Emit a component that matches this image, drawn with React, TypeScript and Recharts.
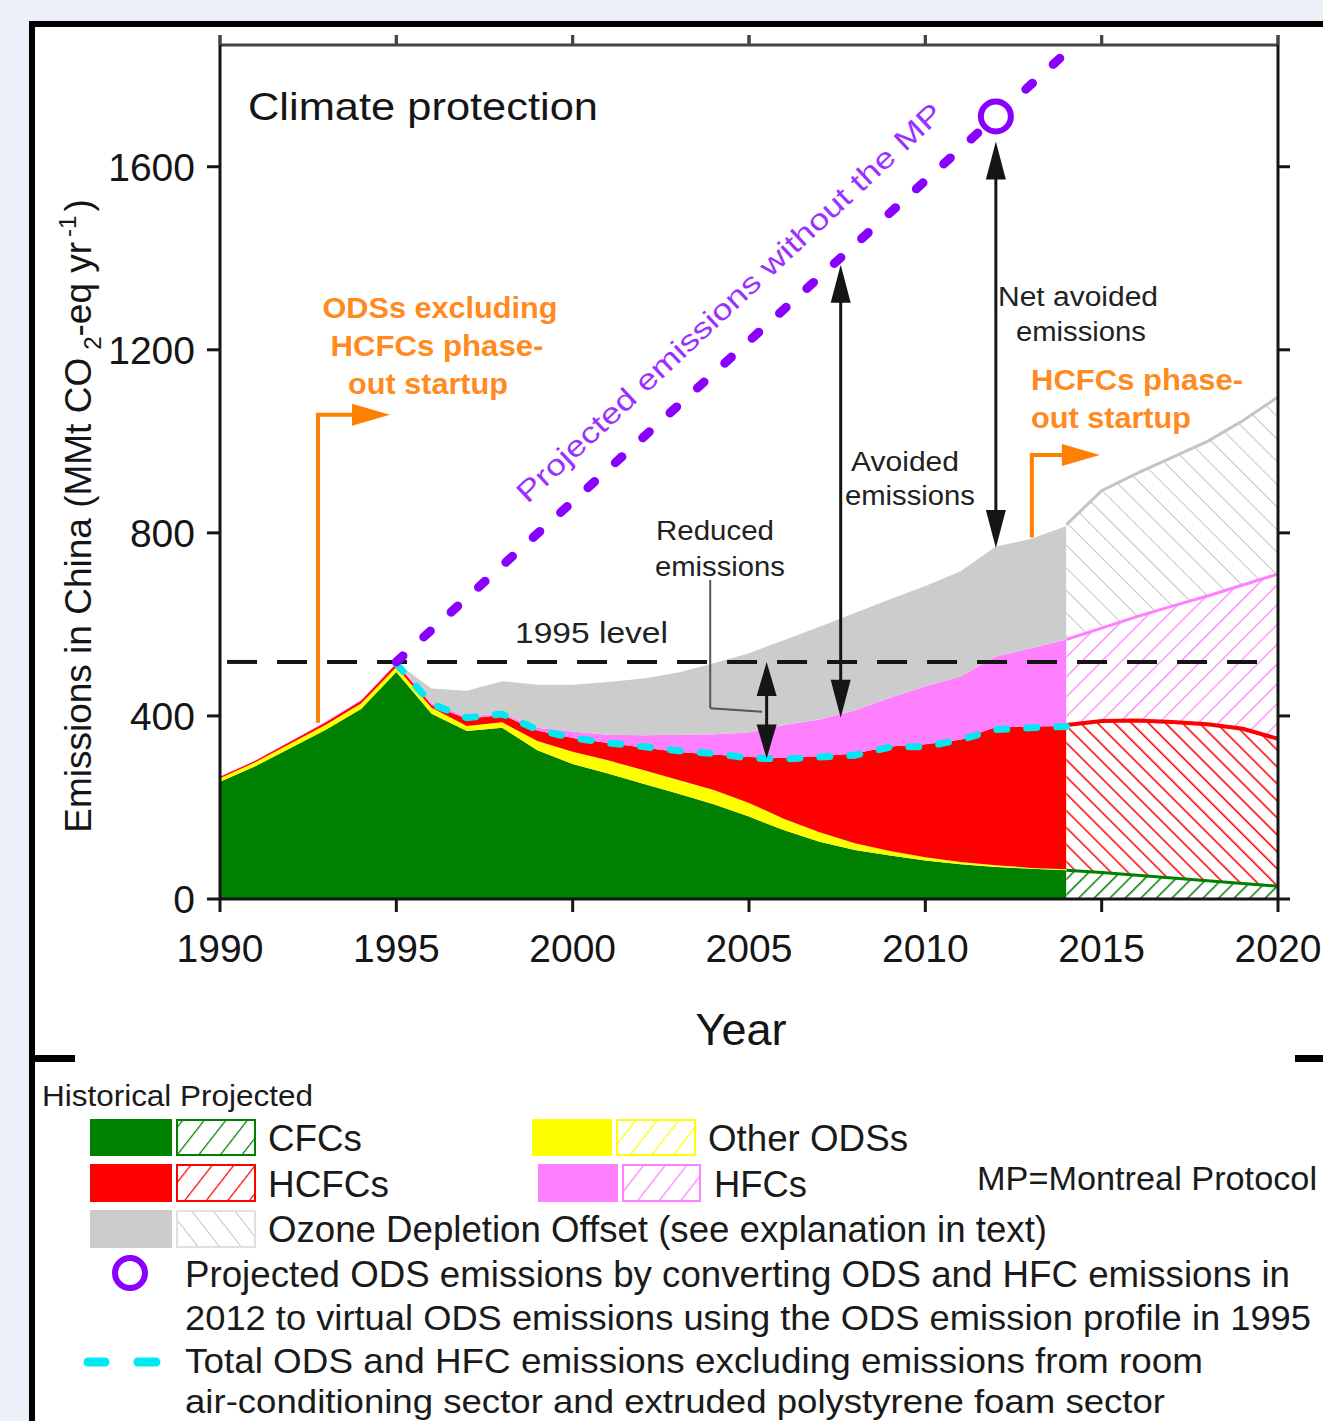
import React from "react";
import {
  Area,
  ComposedChart,
  Line,
  ReferenceDot,
  ReferenceLine,
  XAxis,
  YAxis,
} from "recharts";

const FONT = "'Liberation Sans', Arial, Helvetica, sans-serif";

const GREEN = "#008000";
const YELLOW = "#ffff00";
const RED = "#ff0000";
const PINK = "#ff80ff";
const GREY = "#cccccc";
const GREY_HATCH = "#c4c4c4";
const PURPLE = "#8a00ff";
const CYAN = "#00e8f2";
const ORANGE = "#ff8000";
const INK = "#151515";

// historical emissions, MMt CO2-eq / yr (stack layers)
const historicalYears = [
  1990, 1991, 1992, 1993, 1994, 1995, 1996, 1997, 1998, 1999, 2000, 2001, 2002,
  2003, 2004, 2005, 2006, 2007, 2008, 2009, 2010, 2011, 2012, 2013, 2014,
];
const cfcHistorical = [
  256, 290, 330, 370, 415, 496, 405, 367, 374, 325, 295, 274, 252, 230, 207, 180,
  150, 125, 107, 95, 84, 76, 70, 66, 63,
];
const otherOdsHistorical = [
  8, 9, 10, 11, 12, 11, 13, 11, 12, 20, 27, 29, 30, 30, 31, 30, 25, 21, 15, 10,
  7, 5, 4, 2, 2,
];
const hcfcHistorical = [
  3, 3, 4, 5, 6, 7, 6, 16, 16, 23, 30, 38, 49, 61, 78, 100, 133, 166, 196, 228,
  247, 267, 302, 309, 313,
];
const hfcHistorical = [
  1, 1, 1, 2, 2, 2, 4, 4, 4, 6, 14, 18, 27, 38, 44, 54, 72, 80, 94, 107, 127,
  138, 154, 171, 189,
];
const odoHistorical = [
  0, 0, 0, 0, 0, 0, 32, 57, 70, 94, 102, 115, 124, 136, 155, 173, 186, 203, 213,
  215, 219, 230, 240, 239, 248,
];

// projected emissions
const projectedYears = [2014, 2015, 2016, 2017, 2018, 2019, 2020];
const cfcProjected = [63, 58, 52, 46, 40, 34, 28];
const otherOdsProjected = [2, 2, 2, 1, 1, 1, 1];
const hcfcProjected = [315, 329, 336, 340, 341, 337, 321];
const hfcProjected = [187, 203, 227, 253, 280, 314, 360];
const odoProjected = [251, 300, 313, 325, 338, 359, 387];

// projected emissions without the Montreal Protocol
const withoutMpYears = [1995, 2014];
const withoutMpValues = [518, 1850];

// total ODS + HFC excluding room AC and XPS foam
const excludingYears = [
  1995, 1996, 1997, 1998, 1999, 2000, 2001, 2002, 2003, 2004, 2005, 2006, 2007,
  2008, 2009, 2010, 2011, 2012, 2013, 2014,
];
const excludingValues = [
  514, 426, 396, 404, 370, 352, 341, 333, 324, 318, 308, 306, 310, 314, 332, 333,
  348, 370, 374, 377,
];

const level1995 = 518;
const virtualOdsYear = 2012;
const virtualOdsValue = 1710;

const xTicks = [1990, 1995, 2000, 2005, 2010, 2015, 2020];
const yTicks = [0, 400, 800, 1200, 1600];
const Y_MAX = 1866;

const historicalLayers: [string, number[]][] = [
  ["hCfc", cfcHistorical],
  ["hOther", otherOdsHistorical],
  ["hHcfc", hcfcHistorical],
  ["hHfc", hfcHistorical],
  ["hOdo", odoHistorical],
];
const projectedLayers: [string, number[]][] = [
  ["pCfc", cfcProjected],
  ["pOther", otherOdsProjected],
  ["pHcfc", hcfcProjected],
  ["pHfc", hfcProjected],
  ["pOdo", odoProjected],
];

type Row = Record<string, any>;

const allYears = Array.from(
  new Set([...historicalYears, ...projectedYears])
).sort((a, b) => a - b);

function addStack(row: Row, layers: [string, number[]][], i: number) {
  let base = 0;
  layers.forEach(([key, values]) => {
    row[key] = [base, base + values[i]];
    base += values[i];
  });
}

const rows: Row[] = allYears.map((year) => {
  const row: Row = { year };
  const hi = historicalYears.indexOf(year);
  if (hi >= 0) addStack(row, historicalLayers, hi);
  const pi = projectedYears.indexOf(year);
  if (pi >= 0) addStack(row, projectedLayers, pi);
  const wi = withoutMpYears.indexOf(year);
  if (wi >= 0) row.withoutMp = withoutMpValues[wi];
  const ei = excludingYears.indexOf(year);
  if (ei >= 0) row.excluding = excludingValues[ei];
  return row;
});

const topOf = (key: string) => (row: Row) => (row[key] ? row[key][1] : null);

function arrowShape(
  color: string,
  width: number,
  start: boolean,
  end: boolean,
  headLen = 38,
  headHalf = 10
) {
  return (props: any) => {
    const { x1, y1, x2, y2 } = props;
    const len = Math.hypot(x2 - x1, y2 - y1) || 1;
    const ux = (x2 - x1) / len;
    const uy = (y2 - y1) / len;
    const head = (tx: number, ty: number, dx: number, dy: number) => {
      const bx = tx - dx * headLen;
      const by = ty - dy * headLen;
      const px = -dy * headHalf;
      const py = dx * headHalf;
      return `${tx},${ty} ${bx + px},${by + py} ${bx - px},${by - py}`;
    };
    const sx = start ? x1 + ux * headLen * 0.7 : x1;
    const sy = start ? y1 + uy * headLen * 0.7 : y1;
    const ex = end ? x2 - ux * headLen * 0.7 : x2;
    const ey = end ? y2 - uy * headLen * 0.7 : y2;
    return (
      <g>
        <line x1={sx} y1={sy} x2={ex} y2={ey} stroke={color} strokeWidth={width} />
        {start && <polygon points={head(x1, y1, -ux, -uy)} fill={color} />}
        {end && <polygon points={head(x2, y2, ux, uy)} fill={color} />}
      </g>
    );
  };
}

// small marks above the top frame line, one per x tick
const topTickShape = (props: any) => {
  const { x1, y1 } = props;
  return <line x1={x1} y1={y1} x2={x1} y2={y1 - 10} stroke="#444" strokeWidth={3} />;
};

function Hatch({ id, color, gap, angle, width }: { id: string; color: string; gap: number; angle: number; width: number }) {
  return (
    <pattern id={id} patternUnits="userSpaceOnUse" width={gap} height={gap} patternTransform={`rotate(${angle})`}>
      <rect width={gap} height={gap} fill="#fff" />
      <line x1={0} y1={0} x2={0} y2={gap} stroke={color} strokeWidth={width} />
    </pattern>
  );
}

function T(props: any) {
  const { children, len, ...rest } = props;
  return (
    <text
      fontFamily={FONT}
      textLength={len}
      lengthAdjust={len ? "spacingAndGlyphs" : undefined}
      {...rest}
    >
      {children}
    </text>
  );
}

function Swatch({ x, y, w, h, fill, border }: any) {
  return <rect x={x} y={y} width={w} height={h} fill={fill} stroke={border || "none"} strokeWidth={2} />;
}

const noLabel = () => <g />;

export default function App() {
  const axisTick = { fontSize: 39, fill: INK, fontFamily: FONT };
  return (
    <div
      style={{
        position: "relative",
        width: 1323,
        height: 1421,
        overflow: "hidden",
        background: "#edf0f8",
        fontFamily: FONT,
      }}
    >
      <style>{"body{margin:0}"}</style>
      <div
        style={{
          position: "absolute",
          left: 29,
          top: 21,
          width: 1400,
          height: 1500,
          background: "#fff",
          borderLeft: "6px solid #000",
          borderTop: "6px solid #000",
        }}
      />
      <div style={{ position: "absolute", left: 0, top: 0 }}>
        <ComposedChart
          width={1323}
          height={1060}
          data={rows}
          margin={{ top: 44, right: 44, bottom: 61, left: 100 }}
        >
          <defs>
            <Hatch id="hatch-cfc" color={GREEN} gap={11} angle={45} width={3} />
            <Hatch id="hatch-other" color={YELLOW} gap={11} angle={45} width={3} />
            <Hatch id="hatch-hcfc" color={RED} gap={12} angle={-45} width={3} />
            <Hatch id="hatch-hfc" color={PINK} gap={14} angle={45} width={2.5} />
            <Hatch id="hatch-odo" color={GREY_HATCH} gap={16} angle={-45} width={2} />
          </defs>
          <XAxis
            dataKey="year"
            type="number"
            domain={[1990, 2020]}
            ticks={xTicks}
            allowDataOverflow
            height={100}
            tick={axisTick}
            tickSize={13}
            tickMargin={22}
            axisLine={{ stroke: INK, strokeWidth: 3 }}
            tickLine={{ stroke: INK, strokeWidth: 3 }}
          />
          <XAxis
            xAxisId="top"
            dataKey="year"
            orientation="top"
            type="number"
            domain={[1990, 2020]}
            ticks={xTicks}
            allowDataOverflow
            height={1}
            tick={noLabel}
            tickSize={10}
            axisLine={{ stroke: "#444", strokeWidth: 3 }}
            tickLine={{ stroke: "#444", strokeWidth: 3 }}
          />
          <YAxis
            type="number"
            domain={[0, Y_MAX]}
            ticks={yTicks}
            allowDataOverflow
            width={120}
            tick={axisTick}
            tickSize={13}
            tickMargin={12}
            axisLine={{ stroke: INK, strokeWidth: 3 }}
            tickLine={{ stroke: INK, strokeWidth: 3 }}
          />
          <YAxis
            yAxisId="right"
            orientation="right"
            type="number"
            domain={[0, Y_MAX]}
            ticks={yTicks}
            allowDataOverflow
            width={1}
            tick={noLabel}
            tickSize={12}
            axisLine={{ stroke: INK, strokeWidth: 3 }}
            tickLine={{ stroke: INK, strokeWidth: 3 }}
          />

          <Area dataKey="hCfc" type="linear" fill={GREEN} fillOpacity={1} stroke="none" dot={false} activeDot={false} isAnimationActive={false} />
          <Area dataKey="hOther" type="linear" fill={YELLOW} fillOpacity={1} stroke="none" dot={false} activeDot={false} isAnimationActive={false} />
          <Area dataKey="hHcfc" type="linear" fill={RED} fillOpacity={1} stroke="none" dot={false} activeDot={false} isAnimationActive={false} />
          <Area dataKey="hHfc" type="linear" fill={PINK} fillOpacity={1} stroke="none" dot={false} activeDot={false} isAnimationActive={false} />
          <Area dataKey="hOdo" type="linear" fill={GREY} fillOpacity={1} stroke="none" dot={false} activeDot={false} isAnimationActive={false} />

          <Area dataKey="pCfc" type="linear" fill="url(#hatch-cfc)" fillOpacity={1} stroke="none" dot={false} activeDot={false} isAnimationActive={false} />
          <Area dataKey="pOther" type="linear" fill="url(#hatch-other)" fillOpacity={1} stroke="none" dot={false} activeDot={false} isAnimationActive={false} />
          <Area dataKey="pHcfc" type="linear" fill="url(#hatch-hcfc)" fillOpacity={1} stroke="none" dot={false} activeDot={false} isAnimationActive={false} />
          <Area dataKey="pHfc" type="linear" fill="url(#hatch-hfc)" fillOpacity={1} stroke="none" dot={false} activeDot={false} isAnimationActive={false} />
          <Area dataKey="pOdo" type="linear" fill="url(#hatch-odo)" fillOpacity={1} stroke="none" dot={false} activeDot={false} isAnimationActive={false} />

          <Line dataKey={topOf("pOdo")} type="linear" stroke={GREY_HATCH} strokeWidth={3} dot={false} activeDot={false} isAnimationActive={false} />
          <Line dataKey={topOf("pHfc")} type="linear" stroke={PINK} strokeWidth={3} dot={false} activeDot={false} isAnimationActive={false} />
          <Line dataKey={topOf("pHcfc")} type="linear" stroke={RED} strokeWidth={4} dot={false} activeDot={false} isAnimationActive={false} />
          <Line dataKey={topOf("pCfc")} type="linear" stroke={GREEN} strokeWidth={3} dot={false} activeDot={false} isAnimationActive={false} />

          <ReferenceLine
            segment={[{ x: 1990.2, y: level1995 }, { x: 2019.7, y: level1995 }]}
            stroke={INK}
            strokeWidth={4}
            strokeDasharray="30 20"
          />

          <Line
            dataKey="excluding"
            type="linear"
            stroke={CYAN}
            strokeWidth={7}
            strokeDasharray="10 20"
            strokeLinecap="round"
            dot={false}
            activeDot={false}
            isAnimationActive={false}
          />
          <Line
            dataKey="withoutMp"
            type="linear"
            connectNulls
            stroke={PURPLE}
            strokeWidth={9}
            strokeDasharray="9 28"
            strokeLinecap="round"
            dot={false}
            activeDot={false}
            isAnimationActive={false}
          />
          <ReferenceDot
            x={virtualOdsYear}
            y={virtualOdsValue}
            r={15}
            fill="#fff"
            stroke={PURPLE}
            strokeWidth={6}
          />

          {/* top frame tick marks */}
          {xTicks.map((t) => (
            <ReferenceLine
              key={`top-${t}`}
              segment={[{ x: t, y: Y_MAX }, { x: t, y: Y_MAX }]}
              ifOverflow="visible"
              shape={topTickShape}
            />
          ))}

          {/* reduced emissions */}
          <ReferenceLine
            segment={[{ x: 2003.9, y: 697 }, { x: 2003.9, y: 417 }]}
            stroke="#555"
            strokeWidth={2}
          />
          <ReferenceLine
            segment={[{ x: 2003.9, y: 417 }, { x: 2005.37, y: 409 }]}
            stroke="#555"
            strokeWidth={2}
          />
          <ReferenceLine
            segment={[{ x: 2005.5, y: level1995 }, { x: 2005.5, y: 307 }]}
            shape={arrowShape(INK, 3, true, true, 34, 10)}
          />
          {/* avoided emissions */}
          <ReferenceLine
            segment={[{ x: 2007.6, y: 1386 }, { x: 2007.6, y: 396 }]}
            shape={arrowShape(INK, 3, true, true)}
          />
          {/* net avoided emissions */}
          <ReferenceLine
            segment={[{ x: virtualOdsYear, y: 1655 }, { x: virtualOdsYear, y: 767 }]}
            shape={arrowShape(INK, 3, true, true)}
          />

          {/* phase-out startups */}
          <ReferenceLine
            segment={[{ x: 1992.78, y: 385 }, { x: 1992.78, y: 1058 }]}
            stroke={ORANGE}
            strokeWidth={4}
          />
          <ReferenceLine
            segment={[{ x: 1992.72, y: 1058 }, { x: 1994.82, y: 1058 }]}
            shape={arrowShape(ORANGE, 4, false, true, 38, 11)}
          />
          <ReferenceLine
            segment={[{ x: 2013.02, y: 790 }, { x: 2013.02, y: 970 }]}
            stroke={ORANGE}
            strokeWidth={4}
          />
          <ReferenceLine
            segment={[{ x: 2012.96, y: 970 }, { x: 2014.95, y: 970 }]}
            shape={arrowShape(ORANGE, 4, false, true, 38, 11)}
          />
        </ComposedChart>
      </div>

      <svg
        width={1323}
        height={1421}
        style={{ position: "absolute", left: 0, top: 0, pointerEvents: "none" }}
      >
        <defs>
          <Hatch id="lg-cfc" color={GREEN} gap={17} angle={38} width={2.5} />
          <Hatch id="lg-other" color={YELLOW} gap={17} angle={38} width={2.5} />
          <Hatch id="lg-hcfc" color={RED} gap={17} angle={38} width={2.5} />
          <Hatch id="lg-hfc" color={PINK} gap={17} angle={38} width={2.5} />
          <Hatch id="lg-odo" color={GREY_HATCH} gap={17} angle={-38} width={2} />
        </defs>

        {/* chart annotations */}
        <T x={248} y={120} fontSize={39} fill={INK} len={350}>Climate protection</T>

        <g fontWeight="bold" fill="#ff8a1f">
          <T x={440} y={318} fontSize={29} textAnchor="middle" len={235}>ODSs excluding</T>
          <T x={437} y={356} fontSize={29} textAnchor="middle" len={213}>HCFCs phase-</T>
          <T x={428} y={394} fontSize={29} textAnchor="middle" len={160}>out startup</T>
          <T x={1031} y={390} fontSize={29} len={212}>HCFCs phase-</T>
          <T x={1031} y={428} fontSize={29} len={160}>out startup</T>
        </g>

        <g fill="#222">
          <T x={515} y={643} fontSize={29} len={153}>1995 level</T>
          <T x={656} y={540} fontSize={27} len={118}>Reduced</T>
          <T x={655} y={576} fontSize={27} len={130}>emissions</T>
          <T x={851} y={471} fontSize={27} len={108}>Avoided</T>
          <T x={845} y={505} fontSize={27} len={130}>emissions</T>
          <T x={998} y={306} fontSize={27} len={160}>Net avoided</T>
          <T x={1016} y={341} fontSize={27} len={130}>emissions</T>
        </g>

        <T
          x={0}
          y={0}
          fontSize={29}
          fill="#9b30ff"
          textAnchor="middle"
          len={570}
          transform="translate(736,310) rotate(-43)"
        >
          Projected emissions without the MP
        </T>

        <text
          fontFamily={FONT}
          fontSize={37}
          fill={INK}
          textAnchor="middle"
          transform="translate(91,516) rotate(-90)"
        >
          Emissions in China (MMt CO
          <tspan fontSize={24} dy={10} dx={8}>2</tspan>
          <tspan dy={-10}>-eq yr</tspan>
          <tspan fontSize={24} dy={-15} dx={5}>-1</tspan>
          <tspan dy={15} dx={4}>)</tspan>
        </text>

        <T x={741} y={1045} fontSize={45} fill={INK} textAnchor="middle">Year</T>

        <rect x={30} y={1055} width={45} height={7} fill="#000" />
        <rect x={1295} y={1055} width={40} height={7} fill="#000" />

        {/* legend */}
        <g fill="#1a1a1a">
          <T x={42} y={1106} fontSize={30} len={271}>Historical Projected</T>

          <Swatch x={90} y={1119} w={82} h={37} fill={GREEN} />
          <Swatch x={177} y={1120} w={78} h={35} fill="url(#lg-cfc)" border={GREEN} />
          <T x={268} y={1151} fontSize={37} len={94}>CFCs</T>

          <Swatch x={532} y={1119} w={80} h={37} fill={YELLOW} />
          <Swatch x={617} y={1120} w={78} h={35} fill="url(#lg-other)" border={YELLOW} />
          <T x={708} y={1151} fontSize={37} len={200}>Other ODSs</T>

          <Swatch x={90} y={1164} w={82} h={38} fill={RED} />
          <Swatch x={177} y={1165} w={78} h={36} fill="url(#lg-hcfc)" border={RED} />
          <T x={268} y={1197} fontSize={37} len={121}>HCFCs</T>

          <Swatch x={538} y={1164} w={80} h={38} fill={PINK} />
          <Swatch x={623} y={1165} w={77} h={36} fill="url(#lg-hfc)" border={PINK} />
          <T x={714} y={1197} fontSize={37} len={93}>HFCs</T>

          <T x={977} y={1190} fontSize={33} len={340}>MP=Montreal Protocol</T>

          <Swatch x={90} y={1210} w={82} h={38} fill={GREY} />
          <Swatch x={177} y={1211} w={78} h={36} fill="url(#lg-odo)" border="#e0e0e0" />
          <T x={268} y={1242} fontSize={37} len={779}>Ozone Depletion Offset (see explanation in text)</T>

          <circle cx={130} cy={1273} r={15} fill="#fff" stroke={PURPLE} strokeWidth={6} />
          <T x={185} y={1287} fontSize={36} len={1105}>
            Projected ODS emissions by converting ODS and HFC emissions in
          </T>
          <T x={185} y={1330} fontSize={35} len={1126}>
            2012 to virtual ODS emissions using the ODS emission profile in 1995
          </T>

          <line x1={88} y1={1362} x2={105} y2={1362} stroke={CYAN} strokeWidth={9} strokeLinecap="round" />
          <line x1={138} y1={1362} x2={156} y2={1362} stroke={CYAN} strokeWidth={9} strokeLinecap="round" />
          <T x={185} y={1373} fontSize={35} len={1018}>
            Total ODS and HFC emissions excluding emissions from room
          </T>
          <T x={185} y={1413} fontSize={34} len={980}>
            air-conditioning sector and extruded polystyrene foam sector
          </T>
        </g>
      </svg>
    </div>
  );
}
